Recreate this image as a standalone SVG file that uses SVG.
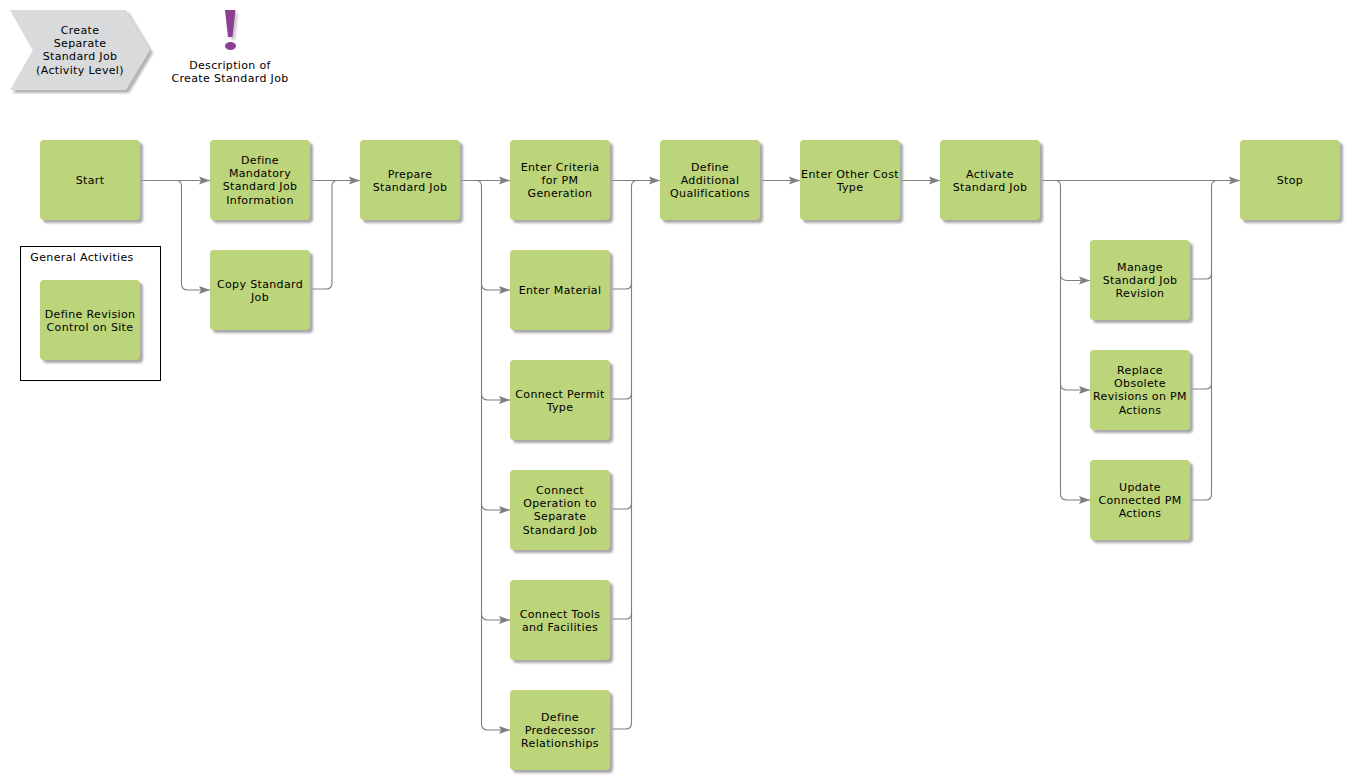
<svg xmlns="http://www.w3.org/2000/svg" width="1350" height="780" viewBox="0 0 1350 780">
<defs>
<marker id="a" markerUnits="userSpaceOnUse" markerWidth="11" markerHeight="10" refX="11" refY="5" orient="auto"><path d="M0,1 L11,5 L0,9 L2,5 Z" fill="#808080"/></marker>
<filter id="s" x="-10%" y="-10%" width="125%" height="125%"><feGaussianBlur stdDeviation="1"/></filter>
</defs>
<style>
text{font-family:"DejaVu Sans",Verdana,sans-serif;font-size:11px;letter-spacing:.35px;fill:#000;text-anchor:middle}
.b{fill:#bcd47a}
.h{fill:#a8a8a8;filter:url(#s)}
.c{fill:none;stroke:#808080;stroke-width:1.1}
.e{marker-end:url(#a)}
</style>
<g id="connectors">
<path class="c e" d="M140,180.5H210"/>
<path class="c e" d="M176,180.5Q181.5,180.5 181.5,186V284Q181.5,290 188,290H210"/>
<path class="c e" d="M310,180.5H360"/>
<path class="c" d="M310,289H326Q332,289 332,283V186Q332,180.5 338,180.5"/>
<path class="c e" d="M460,180.5H510"/>
<path class="c e" d="M476,180.5Q481.5,180.5 481.5,186V284Q481.5,290 488,290H510"/>
<path class="c e" d="M481.5,280V394Q481.5,400 488,400H510"/>
<path class="c e" d="M481.5,390V504Q481.5,510 488,510H510"/>
<path class="c e" d="M481.5,500V614Q481.5,620 488,620H510"/>
<path class="c e" d="M481.5,610V724Q481.5,730 488,730H510"/>
<path class="c e" d="M610,180.5H660"/>
<path class="c" d="M610,289H626Q631.5,289 631.5,283V186Q631.5,180.5 638,180.5"/>
<path class="c" d="M610,399H626Q631.5,399 631.5,393V280"/>
<path class="c" d="M610,509H626Q631.5,509 631.5,503V390"/>
<path class="c" d="M610,619H626Q631.5,619 631.5,613V500"/>
<path class="c" d="M610,729H626Q631.5,729 631.5,723V610"/>
<path class="c e" d="M760,180.5H800"/>
<path class="c e" d="M900,180.5H940"/>
<path class="c e" d="M1040,180.5H1240"/>
<path class="c e" d="M1055,180.5Q1060.5,180.5 1060.5,186V274Q1060.5,280.5 1067,280.5H1090"/>
<path class="c e" d="M1060.5,270V384Q1060.5,390 1067,390H1090"/>
<path class="c e" d="M1060.5,380V494Q1060.5,500 1067,500H1090"/>
<path class="c" d="M1190,279H1206Q1211.5,279 1211.5,273V186Q1211.5,180.5 1218,180.5"/>
<path class="c" d="M1190,389H1206Q1211.5,389 1211.5,383V270"/>
<path class="c" d="M1190,500H1206Q1211.5,500 1211.5,494V380"/>
</g>
<g id="chevron"><path d="M13,13H129L153,53L129,93H13L36,53Z" fill="#b4b4b4" filter="url(#s)"/><path d="M10,10H126L150,50L126,90H10L33,50Z" fill="#d9dadc"/><text x="80" y="34">Create</text><text x="80" y="47">Separate</text><text x="80" y="60">Standard Job</text><text x="80" y="74">(Activity Level)</text></g>
<g id="description"><path d="M227,13H238L235,40H231Z" fill="#ccc" filter="url(#s)"/><path d="M225,10H235.500L232.500,37H228Z" fill="#8b3f93"/><ellipse cx="230.500" cy="46" rx="5.500" ry="4" fill="#8b3f93"/><text x="230" y="69">Description of</text><text x="230" y="82">Create Standard Job</text></g>
<g id="general"><rect x="20.500" y="246.500" width="140" height="134" fill="#fff" stroke="#000"/><text x="82" y="261">General Activities</text></g>
<g id="n1"><rect class="h" x="43" y="143" width="100" height="80" rx="4"/><rect class="b" x="40" y="140" width="100" height="80" rx="4"/><text x="90" y="184">Start</text></g>
<g id="n2"><rect class="h" x="213" y="143" width="100" height="80" rx="4"/><rect class="b" x="210" y="140" width="100" height="80" rx="4"/><text x="260" y="164">Define</text><text x="260" y="177">Mandatory</text><text x="260" y="190">Standard Job</text><text x="260" y="204">Information</text></g>
<g id="n3"><rect class="h" x="213" y="253" width="100" height="80" rx="4"/><rect class="b" x="210" y="250" width="100" height="80" rx="4"/><text x="260" y="288">Copy Standard</text><text x="260" y="301">Job</text></g>
<g id="n4"><rect class="h" x="43" y="283" width="100" height="80" rx="4"/><rect class="b" x="40" y="280" width="100" height="80" rx="4"/><text x="90" y="318">Define Revision</text><text x="90" y="331">Control on Site</text></g>
<g id="n5"><rect class="h" x="363" y="143" width="100" height="80" rx="4"/><rect class="b" x="360" y="140" width="100" height="80" rx="4"/><text x="410" y="178">Prepare</text><text x="410" y="191">Standard Job</text></g>
<g id="n6"><rect class="h" x="513" y="143" width="100" height="80" rx="4"/><rect class="b" x="510" y="140" width="100" height="80" rx="4"/><text x="560" y="171">Enter Criteria</text><text x="560" y="184">for PM</text><text x="560" y="197">Generation</text></g>
<g id="n7"><rect class="h" x="513" y="253" width="100" height="80" rx="4"/><rect class="b" x="510" y="250" width="100" height="80" rx="4"/><text x="560" y="294">Enter Material</text></g>
<g id="n8"><rect class="h" x="513" y="363" width="100" height="80" rx="4"/><rect class="b" x="510" y="360" width="100" height="80" rx="4"/><text x="560" y="398">Connect Permit</text><text x="560" y="411">Type</text></g>
<g id="n9"><rect class="h" x="513" y="473" width="100" height="80" rx="4"/><rect class="b" x="510" y="470" width="100" height="80" rx="4"/><text x="560" y="494">Connect</text><text x="560" y="507">Operation to</text><text x="560" y="520">Separate</text><text x="560" y="534">Standard Job</text></g>
<g id="n10"><rect class="h" x="513" y="583" width="100" height="80" rx="4"/><rect class="b" x="510" y="580" width="100" height="80" rx="4"/><text x="560" y="618">Connect Tools</text><text x="560" y="631">and Facilities</text></g>
<g id="n11"><rect class="h" x="513" y="693" width="100" height="80" rx="4"/><rect class="b" x="510" y="690" width="100" height="80" rx="4"/><text x="560" y="721">Define</text><text x="560" y="734">Predecessor</text><text x="560" y="747">Relationships</text></g>
<g id="n12"><rect class="h" x="663" y="143" width="100" height="80" rx="4"/><rect class="b" x="660" y="140" width="100" height="80" rx="4"/><text x="710" y="171">Define</text><text x="710" y="184">Additional</text><text x="710" y="197">Qualifications</text></g>
<g id="n13"><rect class="h" x="803" y="143" width="100" height="80" rx="4"/><rect class="b" x="800" y="140" width="100" height="80" rx="4"/><text x="850" y="178">Enter Other Cost</text><text x="850" y="191">Type</text></g>
<g id="n14"><rect class="h" x="943" y="143" width="100" height="80" rx="4"/><rect class="b" x="940" y="140" width="100" height="80" rx="4"/><text x="990" y="178">Activate</text><text x="990" y="191">Standard Job</text></g>
<g id="n15"><rect class="h" x="1093" y="243" width="100" height="80" rx="4"/><rect class="b" x="1090" y="240" width="100" height="80" rx="4"/><text x="1140" y="271">Manage</text><text x="1140" y="284">Standard Job</text><text x="1140" y="297">Revision</text></g>
<g id="n16"><rect class="h" x="1093" y="353" width="100" height="80" rx="4"/><rect class="b" x="1090" y="350" width="100" height="80" rx="4"/><text x="1140" y="374">Replace</text><text x="1140" y="387">Obsolete</text><text x="1140" y="400">Revisions on PM</text><text x="1140" y="414">Actions</text></g>
<g id="n17"><rect class="h" x="1093" y="463" width="100" height="80" rx="4"/><rect class="b" x="1090" y="460" width="100" height="80" rx="4"/><text x="1140" y="491">Update</text><text x="1140" y="504">Connected PM</text><text x="1140" y="517">Actions</text></g>
<g id="n18"><rect class="h" x="1243" y="143" width="100" height="80" rx="4"/><rect class="b" x="1240" y="140" width="100" height="80" rx="4"/><text x="1290" y="184">Stop</text></g>
</svg>
